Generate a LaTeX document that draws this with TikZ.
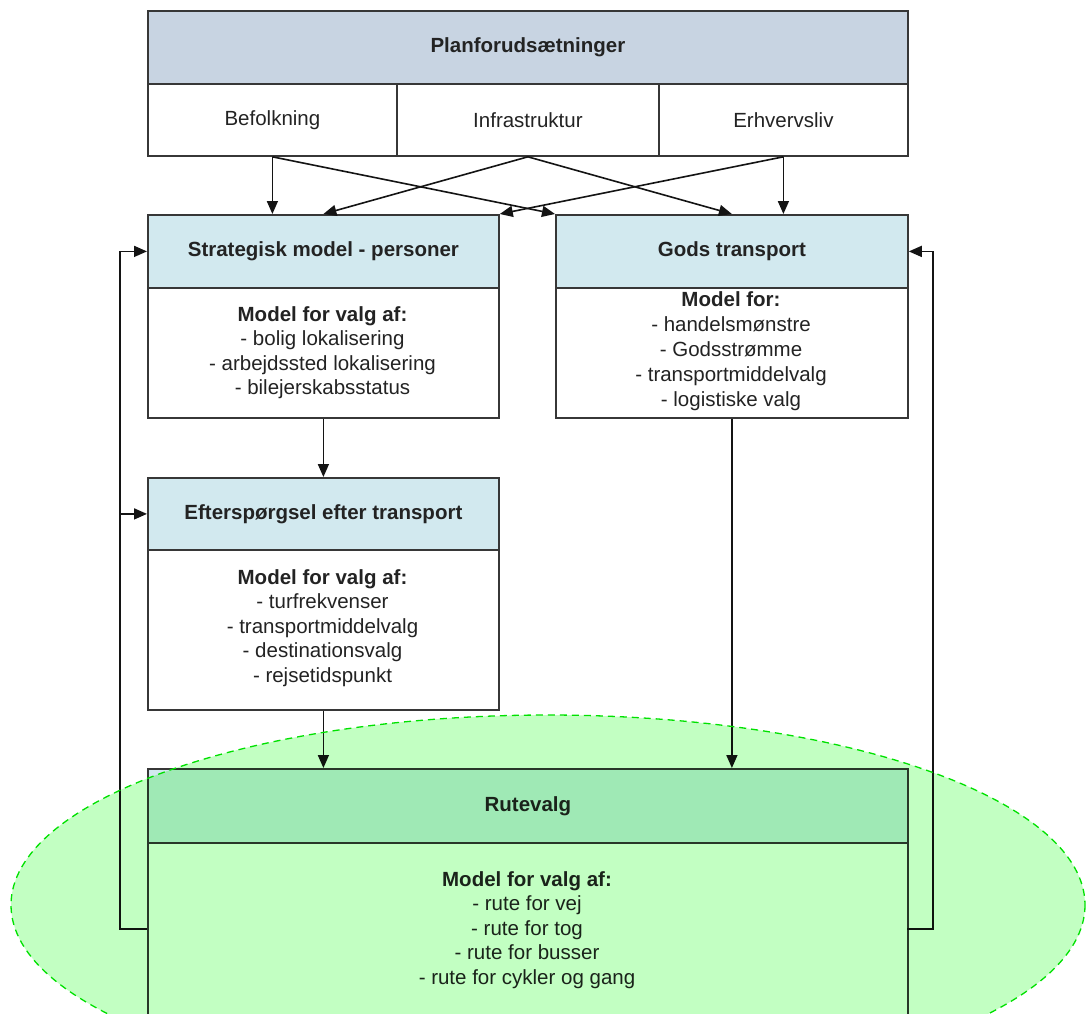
\documentclass[tikz,border=0pt]{standalone}
\usepackage{fontspec}
\setmainfont{Liberation Sans}
\usetikzlibrary{arrows.meta,calc}
\definecolor{topblue}{RGB}{200,212,226}
\definecolor{hdrblue}{RGB}{210,233,239}
\definecolor{boxline}{RGB}{55,55,55}
\definecolor{ellfill}{RGB}{194,255,194}
\definecolor{elldash}{RGB}{0,225,0}
\definecolor{txt}{RGB}{35,35,35}
\definecolor{conn}{RGB}{20,20,20}
\begin{document}
\begin{tikzpicture}[x=1pt,y=-1pt,
  cell/.style={draw=boxline, line width=1.8pt, inner sep=0pt, anchor=north west,
    font=\fontsize{20.5}{24.5}\selectfont, text=txt},
  hdr/.style={cell, fill=hdrblue, font=\fontsize{20.5}{24.5}\selectfont\bfseries},
  bodybox/.style={cell, fill=white},
  bodytxt/.style={anchor=north, inner sep=0pt, align=center, text=txt,
    font=\fontsize{20.5}{24.5}\selectfont},
  arr/.style={draw=conn, line width=1.6pt, -{Triangle[length=13pt,width=11pt]}},
]
\useasboundingbox (0,0) rectangle (1086,1013);
\clip (0,0) rectangle (1086,1013);
\fill[white] (0,0) rectangle (1086,1013);

% Planforudsaetninger
\node[cell, fill=topblue, font=\fontsize{20.5}{24.5}\selectfont\bfseries,
  minimum width=760pt, minimum height=73pt] (plan) at (147,10) {Planforuds\ae tninger};
\node[cell, fill=white, minimum width=249pt, minimum height=72pt] (bef) at (147,83) {Befolkning};
\node[cell, fill=white, minimum width=262pt, minimum height=72pt] (inf) at (396,83) {Infrastruktur};
\node[cell, fill=white, minimum width=249pt, minimum height=72pt] (erh) at (658,83) {Erhvervsliv};

% Strategisk model
\node[hdr, minimum width=351pt, minimum height=73pt] (sh) at (147,214) {Strategisk model - personer};
\node[bodybox, minimum width=351pt, minimum height=130pt] (sb) at (147,287) {};
\node[bodytxt] (st) at (322.5,306) {\textbf{Model for valg af:}\\- bolig lokalisering\\- arbejdssted lokalisering\\- bilejerskabsstatus};

% Gods transport
\node[hdr, minimum width=352pt, minimum height=73pt] (gh) at (555,214) {Gods transport};
\node[bodybox, minimum width=352pt, minimum height=130pt] (gb) at (555,287) {};
\node[bodytxt, font=\fontsize{20.5}{25}\selectfont] (gt) at (731,291) {\textbf{Model for:}\\- handelsm\o nstre\\- Godsstr\o mme\\- transportmiddelvalg\\- logistiske valg};

% Efterspoergsel
\node[hdr, minimum width=351pt, minimum height=72pt] (eh) at (147,477) {Eftersp\o rgsel efter transport};
\node[bodybox, minimum width=351pt, minimum height=160pt] (eb) at (147,549) {};
\node[bodytxt] (et) at (322.5,569) {\textbf{Model for valg af:}\\- turfrekvenser\\- transportmiddelvalg\\- destinationsvalg\\- rejsetidspunkt};

% Rutevalg
\node[hdr, minimum width=760pt, minimum height=74pt] (rh) at (147,768) {Rutevalg};
\node[bodybox, minimum width=760pt, minimum height=220pt] (rb) at (147,842) {};
\node[bodytxt] (rt) at (527,871) {\textbf{Model for valg af:}\\- rute for vej\\- rute for tog\\- rute for busser\\- rute for cykler og gang};

% connectors from top
\draw[arr] (bef.south) -- (bef.south |- sh.north);
\draw[arr] (bef.south) -- (gh.north west);
\draw[arr] (inf.south) -- (sh.north);
\draw[arr] (inf.south) -- (gh.north);
\draw[arr] (erh.south) -- (sh.north east);
\draw[arr] (erh.south) -- (erh.south |- gh.north);

% vertical flow
\draw[arr] (sb.south) -- (eh.north);
\draw[arr] (eb.south) -- (eb.south |- rh.north);
\draw[arr] (gb.south) -- (gb.south |- rh.north);

% feedback
\coordinate (rl) at (147,929);
\coordinate (rr) at (907,929);
\coordinate (lx) at (120,929);
\coordinate (rx) at (933,929);
\draw[arr] (rl) -- (lx) |- (sh.west);
\draw[arr] (eh.west -| lx) -- (eh.west);
\draw[arr] (rr) -- (rx) |- (gh.east);

% ellipse overlay
\begin{scope}[blend mode=multiply]
  \fill[ellfill] (548,905) ellipse [x radius=537, y radius=190];
\end{scope}
\draw[elldash, line width=1.3pt, dash pattern=on 7pt off 5pt] (548,905) ellipse [x radius=537, y radius=190];
\end{tikzpicture}
\end{document}
